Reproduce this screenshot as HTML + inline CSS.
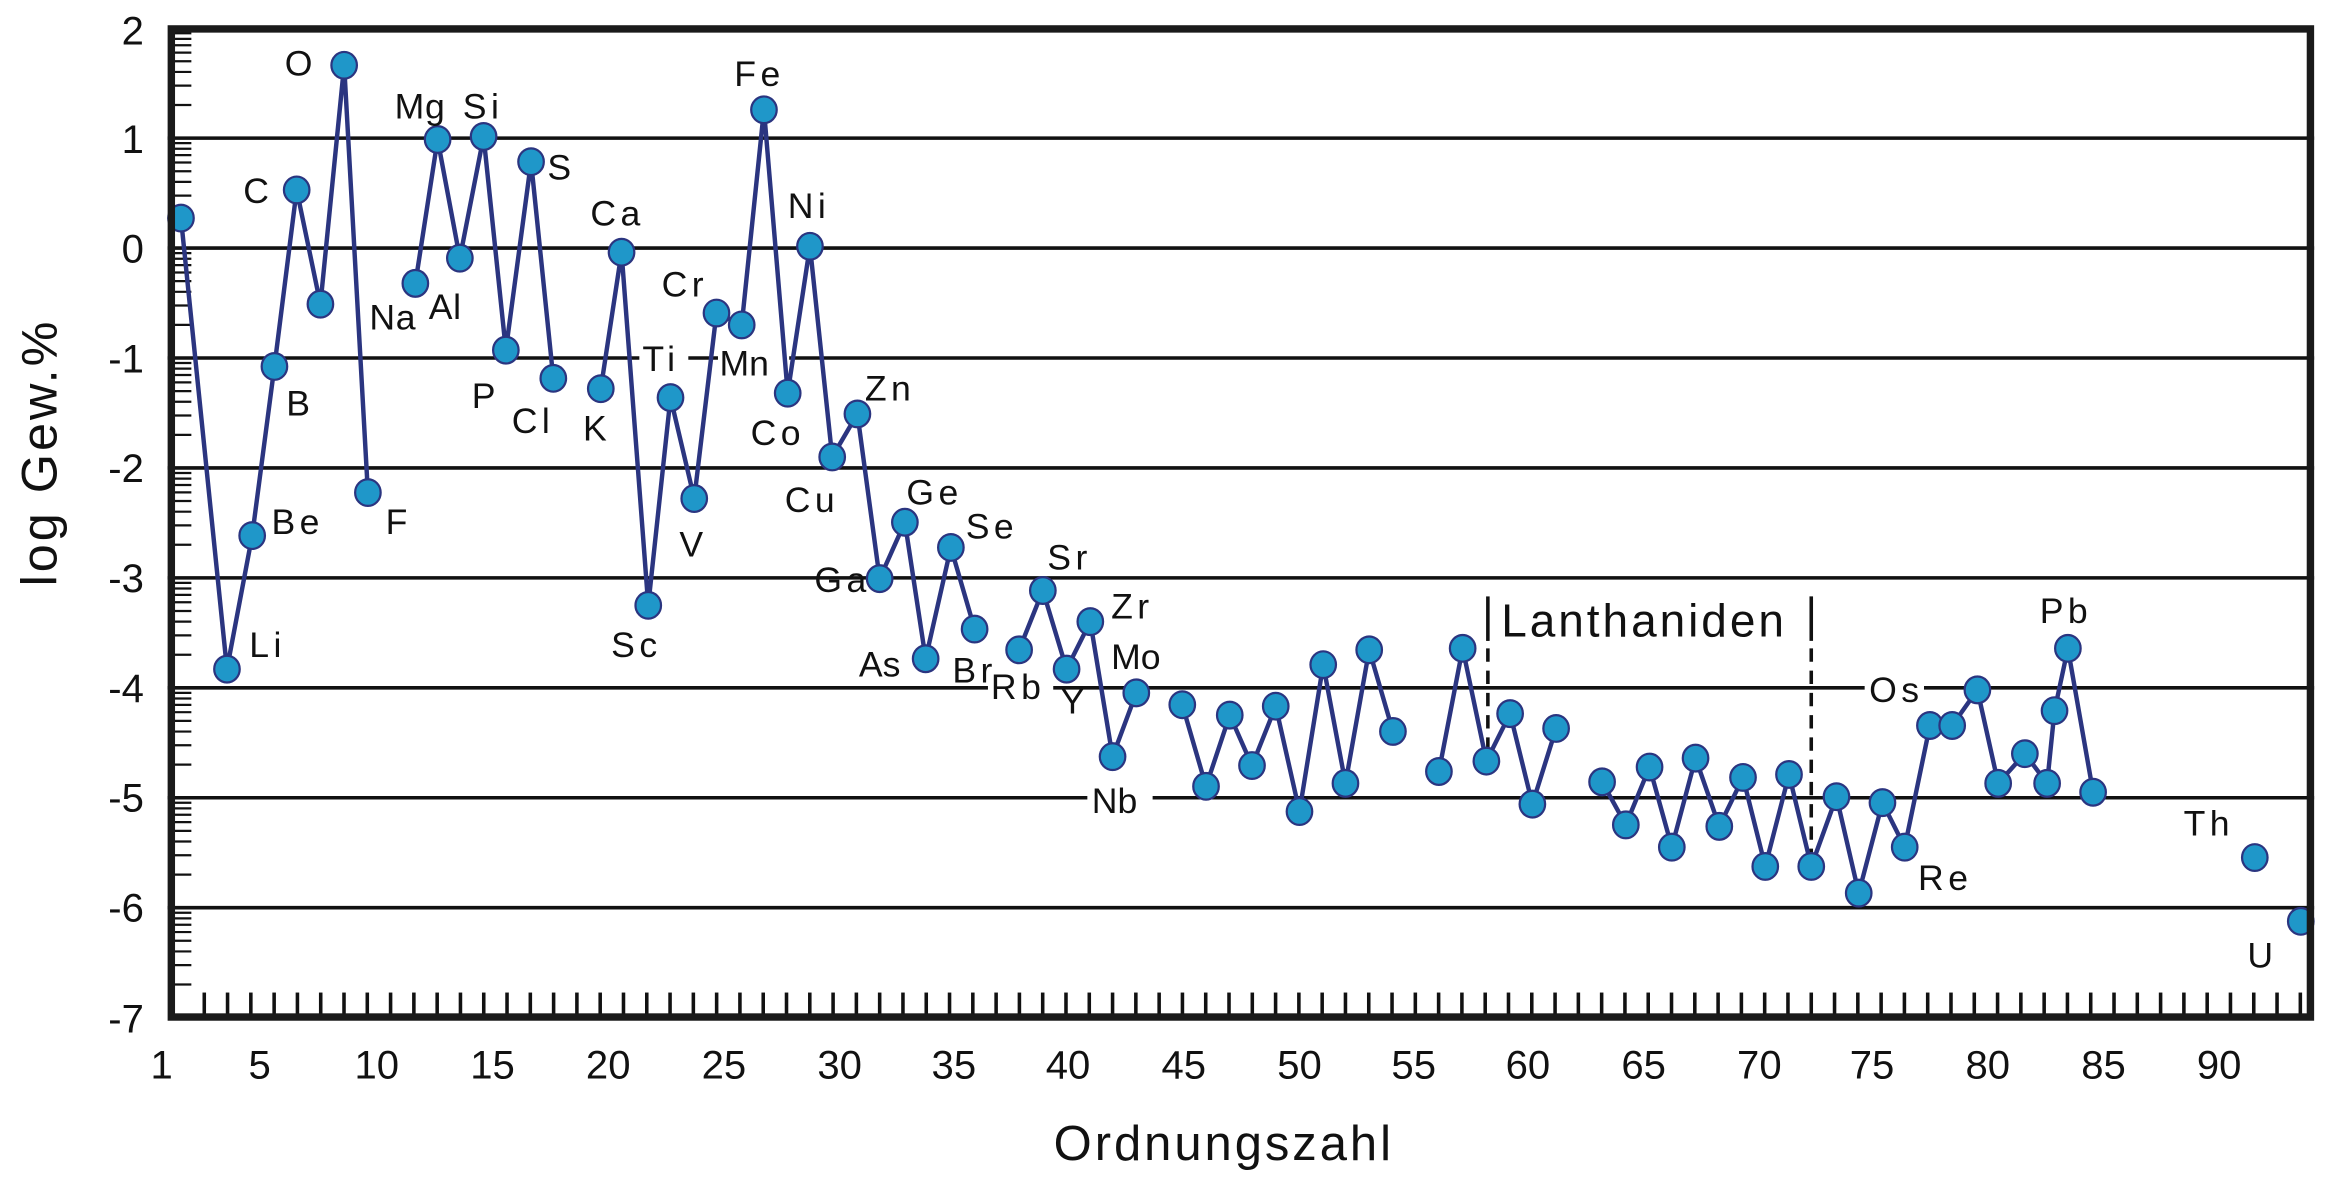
<!DOCTYPE html>
<html><head><meta charset="utf-8"><style>
html,body{margin:0;padding:0;background:#fff;}
svg{display:block;}
text{font-family:"Liberation Sans",sans-serif;fill:#111;}
</style></head><body>
<svg width="2326" height="1178" viewBox="0 0 1568 794" preserveAspectRatio="none" xmlns="http://www.w3.org/2000/svg">
<g stroke="#111" stroke-width="2.4">
<line x1="113" y1="93.1" x2="1560" y2="93.1"/>
<line x1="113" y1="167.2" x2="1560" y2="167.2"/>
<line x1="113" y1="241.3" x2="1560" y2="241.3"/>
<line x1="113" y1="315.4" x2="1560" y2="315.4"/>
<line x1="113" y1="389.5" x2="1560" y2="389.5"/>
<line x1="113" y1="463.6" x2="1560" y2="463.6"/>
<line x1="113" y1="537.7" x2="1560" y2="537.7"/>
<line x1="113" y1="611.8" x2="1560" y2="611.8"/>
</g>
<g id="minor" stroke="#111" stroke-width="1.5"></g>
<g id="bt" stroke="#111" stroke-width="2.4"></g>
<g stroke="#111" stroke-width="2.4">
<line x1="1003" y1="402" x2="1003" y2="432"/>
<line x1="1221" y1="402" x2="1221" y2="432"/>
<line x1="1003" y1="437" x2="1003" y2="512" stroke-dasharray="9,6"/>
<line x1="1221" y1="437" x2="1221" y2="578" stroke-dasharray="9,6"/>
</g>
<text x="1012" y="429" font-size="31" letter-spacing="2">Lanthaniden</text>
<g fill="#fff">
<rect x="431" y="232" width="33" height="20"/>
<rect x="484" y="232" width="48" height="20"/>
<rect x="733" y="528" width="44" height="20"/>
<rect x="1257" y="454" width="40" height="20"/>
<rect x="666" y="455" width="44" height="16"/>
</g>
<g id="series"></g>
<g font-size="24" letter-spacing="3">
<text x="192" y="51">O</text>
<text x="266" y="80" letter-spacing="0.5">Mg</text><text x="312" y="80">Si</text>
<text x="164" y="137">C</text>
<text x="369" y="121">S</text>
<text x="398" y="152">Ca</text>
<text x="495" y="58">Fe</text>
<text x="531" y="147">Ni</text>
<text x="249" y="222" letter-spacing="0.5">Na</text>
<text x="289" y="215" letter-spacing="0.5">Al</text>
<text x="193" y="280">B</text>
<text x="318" y="275">P</text>
<text x="345" y="292">Cl</text>
<text x="393" y="297">K</text>
<text x="433" y="250">Ti</text>
<text x="485" y="253" letter-spacing="0">Mn</text>
<text x="446" y="200">Cr</text>
<text x="506" y="300">Co</text>
<text x="583" y="270">Zn</text>
<text x="529" y="345">Cu</text>
<text x="183" y="360">Be</text>
<text x="260" y="360">F</text>
<text x="458" y="375">V</text>
<text x="168" y="443">Li</text>
<text x="412" y="443">Sc</text>
<text x="611" y="340">Ge</text>
<text x="651" y="363">Se</text>
<text x="549" y="399">Ga</text>
<text x="706" y="384">Sr</text>
<text x="579" y="456" letter-spacing="0">As</text>
<text x="642" y="460">Br</text>
<text x="668" y="471">Rb</text>
<text x="715" y="481">Y</text>
<text x="749" y="417">Zr</text>
<text x="749" y="451" letter-spacing="0">Mo</text>
<text x="736" y="548" letter-spacing="0">Nb</text>
<text x="1260" y="473">Os</text>
<text x="1375" y="420">Pb</text>
<text x="1293" y="600">Re</text>
<text x="1472" y="563">Th</text>
<text x="1515" y="652">U</text>
</g>
<rect x="115.5" y="19.5" width="1442" height="666" fill="none" stroke="#1a1a1a" stroke-width="5"/>
<g font-size="27" text-anchor="end">
<text x="97" y="30">2</text><text x="97" y="103">1</text><text x="97" y="177">0</text>
<text x="97" y="251">-1</text><text x="97" y="325">-2</text><text x="97" y="399">-3</text>
<text x="97" y="473">-4</text><text x="97" y="547">-5</text><text x="97" y="621">-6</text>
<text x="97" y="696">-7</text>
</g>
<g font-size="27" text-anchor="middle">
<text x="109" y="727">1</text><text x="175" y="727">5</text><text x="254" y="727">10</text>
<text x="332" y="727">15</text><text x="410" y="727">20</text><text x="488" y="727">25</text>
<text x="566" y="727">30</text><text x="643" y="727">35</text><text x="720" y="727">40</text>
<text x="798" y="727">45</text><text x="876" y="727">50</text><text x="953" y="727">55</text>
<text x="1030" y="727">60</text><text x="1108" y="727">65</text><text x="1186" y="727">70</text>
<text x="1262" y="727">75</text><text x="1340" y="727">80</text><text x="1418" y="727">85</text>
<text x="1496" y="727">90</text>
</g>
<text x="825" y="782" font-size="33" text-anchor="middle" letter-spacing="2">Ordnungszahl</text>
<text transform="translate(38,305) rotate(-90)" font-size="34" text-anchor="middle" letter-spacing="2">log Gew.%</text>
<script>
(function(){
var ns="http://www.w3.org/2000/svg";
function el(n,a,p){var e=document.createElementNS(ns,n);for(var k in a)e.setAttribute(k,a[k]);p.appendChild(e);return e;}
var mg=document.getElementById("minor");
var u=74.1;
for(var k=-7;k<2;k++){var y0=167.2-u*k;
 for(var m=2;m<=9;m++){var y=y0-u*Math.log10(m);el("line",{x1:117,y1:y,x2:129,y2:y},mg);}}
var bt=document.getElementById("bt");
for(var z=2;z<=92;z++){var x=106.3+15.7*z;el("line",{x1:x,y1:669,x2:x,y2:685},bt);}
var segs=[
[[122,147],[153,451],[170,361],[185,247],[200,128],[216,205],[232,44],[248,332]],
[[280,191],[295,94],[310,174],[326,92],[341,236],[358,109],[373,255]],
[[405,262],[419,170],[437,408],[452,268],[468,336],[483,211],[500,219],[515,74],[531,265],[546,166],[561,308],[578,279],[593,390],[610,352],[624,444],[641,369],[657,424]],
[[687,438],[703,398],[719,451],[735,419],[750,510],[766,467]],
[[797,475],[813,530],[829,482],[844,516],[860,476],[876,547],[892,448],[907,528],[923,438],[939,493]],
[[970,520],[986,437],[1002,513],[1018,481],[1033,542],[1049,491]],
[[1080,527],[1096,556],[1112,517],[1127,571],[1143,511],[1159,557],[1175,524],[1190,584],[1206,522],[1221,584],[1238,537],[1253,602],[1269,541],[1284,571],[1301,489],[1316,489],[1333,465],[1347,528],[1365,508],[1380,528],[1385,479],[1394,437],[1411,534]],
[[1520,578]],[[1551,621]]
];
var g=document.getElementById("series");
segs.forEach(function(s){if(s.length>1)el("polyline",{points:s.map(function(p){return p.join(",");}).join(" "),fill:"none",stroke:"#2b3580","stroke-width":3,"stroke-linejoin":"round"},g);});
segs.forEach(function(s){s.forEach(function(p){el("ellipse",{cx:p[0],cy:p[1],rx:8.6,ry:9,fill:"#1f97c9",stroke:"#2b3580","stroke-width":1.5},g);});});
})();
</script>
</svg>
</body></html>
